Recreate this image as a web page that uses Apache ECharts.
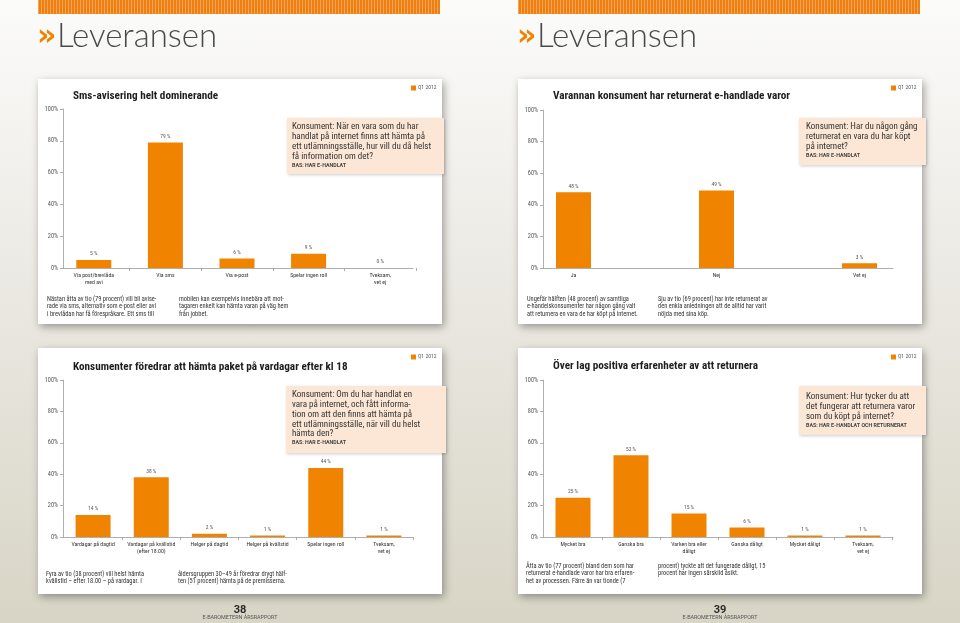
<!DOCTYPE html>
<html>
<head>
<meta charset="utf-8">
<title>Leveransen</title>
<script src="https://cdn.jsdelivr.net/npm/echarts@6/dist/echarts.min.js"></script>
<style>
html, body { margin: 0; padding: 0; }
body {
  width: 960px; height: 623px; overflow: hidden;
  background: linear-gradient(to bottom, #fbfbfa 0%, #f5f4f1 18%, #e9e7e0 50%, #d8d5c6 100%);
}
#chart { width: 960px; height: 623px; }
</style>
</head>
<body>
<div id="chart"></div>
<script>
var legendName = 'Q1 2012';

var smsCategories = ['Via post/brevlåda\nmed avi', 'Via sms', 'Via e-post', 'Spelar ingen roll', 'Tveksam,\nvet ej'];
var smsValues = [5, 79, 6, 9, 0];

var returnCategories = ['Ja', 'Nej', 'Vet ej'];
var returnValues = [48, 49, 3];

var pickupCategories = ['Vardagar på dagtid', 'Vardagar på kvällstid\n(efter 18.00)', 'Helger på dagtid', 'Helger på kvällstid', 'Spelar ingen roll', 'Tveksam,\nvet ej'];
var pickupValues = [14, 38, 2, 1, 44, 1];

var experienceCategories = ['Mycket bra', 'Ganska bra', 'Varken bra eller\ndåligt', 'Ganska dåligt', 'Mycket dåligt', 'Tveksam,\nvet ej'];
var experienceValues = [25, 52, 15, 6, 1, 1];

var percentMin = 0;
var percentMax = 100;
var percentStep = 20;

var NARROW = '"Roboto Condensed", "Open Sans Condensed", sans-serif';
var CAPS = 'Roboto, "DejaVu Sans", sans-serif';
var ORANGE = '#f08300';

var panels = [{
  title: 'Sms-avisering helt dominerande',
  question: ['Konsument: När en vara som du har', 'handlat på internet finns att hämta på', 'ett utlämningsställe, hur vill du då helst', 'få information om det?'],
  base: 'BAS: HAR E-HANDLAT',
  notes: [['Nästan åtta av tio (79 procent) vill bli avise-', 'rade via sms, alternativ som e-post eller avi', 'i brevlådan har få förespråkare. Ett sms till'],
    ['mobilen kan exempelvis innebära att mot-', 'tagaren enkelt kan hämta varan på väg hem', 'från jobbet.']],
  categories: smsCategories, values: smsValues,
  card: [38, 79, 404, 245], axis: [63, 413], band: [58, 416], plot: [109, 268],
  titleAt: [73, 96], legendAt: [411, 85], box: [287, 118, 157, 56], questionAt: [292, 127],
  notesAt: [47, 179, 299], ticks: true
}, {
  title: 'Varannan konsument har returnerat e-handlade varor',
  question: ['Konsument: Har du någon gång', 'returnerat en vara du har köpt', 'på internet?'],
  base: 'BAS: HAR E-HANDLAT',
  notes: [['Ungefär hälften (48 procent) av samtliga', 'e-handelskonsumenter har någon gång valt', 'att returnera en vara de har köpt på internet.'],
    ['Sju av tio (69 procent) har inte returnerat av', 'den enkla anledningen att de alltid har varit', 'nöjda med sina köp.']],
  categories: returnCategories, values: returnValues,
  card: [518, 79, 404, 245], axis: [543, 893], band: [502, 931], plot: [110, 268],
  titleAt: [553, 96], legendAt: [891, 85], box: [799, 118, 127, 47], questionAt: [806, 127],
  notesAt: [527, 658, 299], ticks: false
}, {
  title: 'Konsumenter föredrar att hämta paket på vardagar efter kl 18',
  question: ['Konsument: Om du har handlat en', 'vara på internet, och fått informa-', 'tion om att den finns att hämta på', 'ett utlämningsställe, när vill du helst', 'hämta den?'],
  base: 'BAS: HAR E-HANDLAT',
  notes: [['Fyra av tio (38 procent) vill helst hämta', 'kvällstid – efter 18.00 – på vardagar. I'],
    ['åldersgruppen 30–49 år föredrar drygt hälf-', 'ten (51 procent) hämta på de premisserna.']],
  categories: pickupCategories, values: pickupValues,
  card: [38, 348, 404, 246], axis: [63, 413], band: [64, 413], plot: [380, 537],
  titleAt: [73, 367], legendAt: [411, 354], box: [286, 386, 160, 67], questionAt: [292, 395],
  notesAt: [46, 178, 574], ticks: true
}, {
  title: 'Över lag positiva erfarenheter av att returnera',
  question: ['Konsument: Hur tycker du att', 'det fungerar att returnera varor', 'som du köpt på internet?'],
  base: 'BAS: HAR E-HANDLAT OCH RETURNERAT',
  notes: [['Åtta av tio (77 procent) bland dem som har', 'returnerat e-handlade varor har bra erfaren-', 'het av processen. Färre än var tionde (7'],
    ['procent) tyckte att det fungerade dåligt, 15', 'procent har ingen särskild åsikt.']],
  categories: experienceCategories, values: experienceValues,
  card: [518, 348, 404, 246], axis: [543, 893], band: [544, 892], plot: [380, 537],
  titleAt: [553, 366], legendAt: [891, 354], box: [799, 386, 127, 49], questionAt: [806, 397],
  notesAt: [526, 658, 566], ticks: true
}];

// striped header bar
var stripe = document.createElement('canvas');
stripe.width = 3;
stripe.height = 14;
var sctx = stripe.getContext('2d');
sctx.fillStyle = '#ee7f12';
sctx.fillRect(0, 0, 3, 14);
sctx.fillStyle = '#f6a451';
sctx.fillRect(2, 0, 1, 14);

function text(x, y, str, style) {
  var s = { text: str, fill: '#333', fontFamily: NARROW, fontSize: 7, textVerticalAlign: 'middle' };
  for (var k in style) { s[k] = style[k]; }
  return { type: 'text', x: x, y: y, silent: true, style: s };
}

var graphics = [];
var grids = [], xAxes = [], yAxes = [], series = [], legends = [];

[[38, '38', 240], [518, '39', 720]].forEach(function (page) {
  var x = page[0];
  graphics.push({ type: 'rect', silent: true, shape: { x: x, y: 0, width: 402, height: 14 },
    style: { fill: { image: stripe, repeat: 'repeat' } } });
  graphics.push(text(x - 1, 37, '»', { fill: ORANGE, fontFamily: '"DejaVu Sans", sans-serif', fontWeight: 'bold', fontSize: 30 }));
  graphics.push(text(x + 19, 36, 'Leveransen', { fill: '#4a4a4a', fontFamily: 'Lato, "Open Sans", sans-serif', fontWeight: 300, fontSize: 33 }));
  graphics.push(text(page[2], 610, page[1], { textAlign: 'center', fontWeight: 'bold', fontSize: 11, fill: '#2a2a2a', fontFamily: CAPS }));
  graphics.push(text(page[2], 618, 'E-BAROMETERN ÅRSRAPPORT', { textAlign: 'center', fontSize: 5.4, fill: '#555', fontFamily: CAPS }));
});

panels.forEach(function (p, i) {
  var c = p.card;
  graphics.push({ type: 'rect', silent: true, z: -1, shape: { x: c[0], y: c[1], width: c[2], height: c[3] },
    style: { fill: '#fff', shadowBlur: 8, shadowOffsetX: 2, shadowOffsetY: 3, shadowColor: 'rgba(0,0,0,0.35)' } });
  graphics.push({ type: 'rect', silent: true, shape: { x: p.box[0], y: p.box[1], width: p.box[2], height: p.box[3] },
    style: { fill: '#fce7d6', shadowBlur: 3, shadowOffsetX: 1, shadowOffsetY: 1, shadowColor: 'rgba(0,0,0,0.2)' } });
  graphics.push(text(p.titleAt[0], p.titleAt[1], p.title, { fontWeight: 'bold', fontSize: 11.2, fill: '#1e1e1e' }));
  graphics.push(text(p.questionAt[0], p.questionAt[1] - 4.9, p.question.join('\n'),
    { fontSize: 9, lineHeight: 9.8, fill: '#333', textVerticalAlign: 'top' }));
  graphics.push(text(p.questionAt[0], p.questionAt[1] + p.question.length * 9.8 - 1, p.base,
    { fontSize: 5.3, fontWeight: 'bold', fill: '#444', fontFamily: CAPS }));
  p.notes.forEach(function (lines, j) {
    graphics.push(text(p.notesAt[j], p.notesAt[2] - 3.75, lines.join('\n'),
      { fontSize: 6.4, lineHeight: 7.5, fill: '#333', textVerticalAlign: 'top' }));
  });

  // axis grid: draws the axis lines and the percent scale
  grids.push({ left: p.axis[0], width: p.axis[1] - p.axis[0], top: p.plot[0], height: p.plot[1] - p.plot[0], containLabel: false, outerBoundsMode: 'none' });
  // band grid: positions the bars
  grids.push({ left: p.band[0], width: p.band[1] - p.band[0], top: p.plot[0], height: p.plot[1] - p.plot[0], containLabel: false, outerBoundsMode: 'none' });

  xAxes.push({ type: 'value', gridIndex: 2 * i, min: 0, max: 1, axisLine: { show: true, lineStyle: { color: '#9a9a9a', width: 0.8 } },
    axisTick: { show: false }, axisLabel: { show: false }, splitLine: { show: false } });
  xAxes.push({ type: 'category', gridIndex: 2 * i + 1, data: p.categories,
    axisLine: { show: false },
    axisTick: { show: p.ticks, length: 3, interval: function (idx) { return idx > 0; }, lineStyle: { color: '#9a9a9a', width: 0.8 } },
    axisLabel: { interval: 0, fontSize: 5.8, lineHeight: 7.2, color: '#333', fontFamily: NARROW, margin: 4 },
    splitLine: { show: false } });
  yAxes.push({ type: 'value', gridIndex: 2 * i, min: percentMin, max: percentMax, interval: percentStep,
    axisLine: { show: true, lineStyle: { color: '#9a9a9a', width: 0.8 } },
    axisTick: { show: true, length: 3, lineStyle: { color: '#9a9a9a', width: 0.8 } },
    axisLabel: { formatter: '{value}%', fontSize: 6.3, color: '#555', fontFamily: NARROW, margin: 5 },
    splitLine: { show: false } });
  yAxes.push({ type: 'value', gridIndex: 2 * i + 1, min: percentMin, max: percentMax, show: false, splitLine: { show: false } });

  series.push({ type: 'bar', name: legendName, xAxisIndex: 2 * i + 1, yAxisIndex: 2 * i + 1,
    data: p.values, barWidth: 35, itemStyle: { color: ORANGE },
    label: { show: true, position: 'top', distance: 3, formatter: '{c} %', fontSize: 5.5, color: '#555', fontFamily: NARROW } });

  legends.push({ data: [legendName], left: p.legendAt[0], top: p.legendAt[1], padding: 0, itemWidth: 5, itemHeight: 5, itemGap: 2,
    icon: 'rect', selectedMode: false, textStyle: { fontSize: 5.6, color: '#555', fontFamily: NARROW, padding: [0, 0, 0, -3] } });
});

var chart = echarts.init(document.getElementById('chart'), null, { renderer: 'canvas' });
chart.setOption({
  backgroundColor: 'transparent',
  animation: false,
  textStyle: { fontFamily: NARROW },
  legend: legends,
  grid: grids,
  xAxis: xAxes,
  yAxis: yAxes,
  series: series,
  graphic: { elements: graphics }
});
</script>
</body>
</html>
